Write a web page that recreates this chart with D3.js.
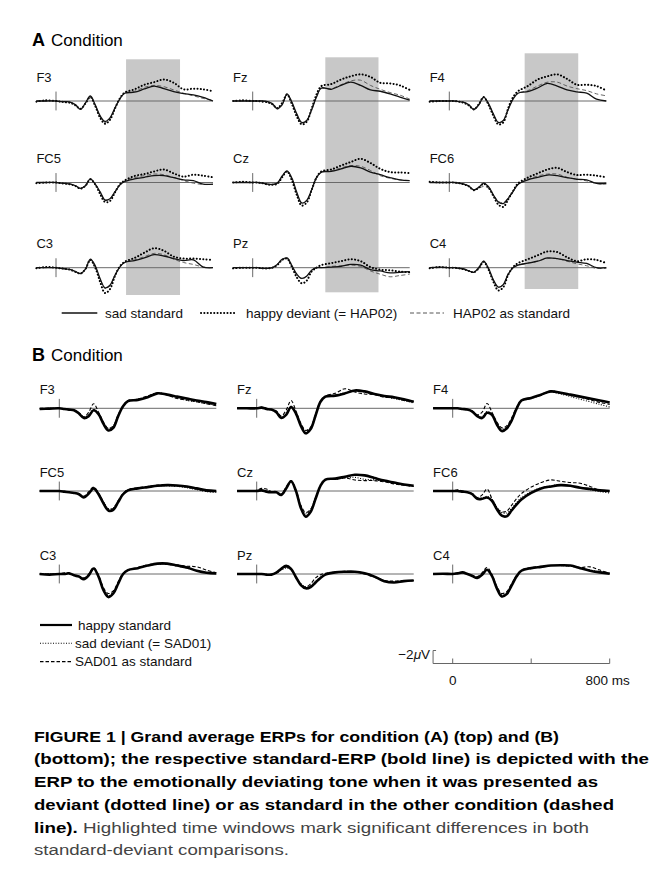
<!DOCTYPE html>
<html>
<head>
<meta charset="utf-8">
<script src="https://cdn.jsdelivr.net/npm/d3@7"></script>
<style>
  body { margin: 0; background: #fff; }
  svg { display: block; font-family: "Liberation Sans", Arial, sans-serif; }
</style>
</head>
<body>
<div id="fig"></div>
<script>
// sample times (ms) shared by every trace
var times = [-100, -50, 0, 25, 50, 75, 100, 125, 150, 175, 200, 225, 250, 275, 300, 325, 350, 400, 450, 500, 550, 600, 650, 700, 750, 800];

// electrodes, row by row
var electrodes = ["F3", "Fz", "F4", "FC5", "Cz", "FC6", "C3", "Pz", "C4"];

// highlighted windows (ms) for the three columns of condition A
var windowsA = [[357, 632], [370, 641], [384, 657]];

var legendA = ["sad standard", "happy deviant (= HAP02)", "HAP02 as standard"];
var legendB = ["happy standard", "sad deviant (= SAD01)", "SAD01 as standard"];

// amplitudes in microvolt, negative plotted up, one array per electrode
var aSadStandard = [
  [0,0,0,0.1,0.1,0.2,0.6,1.3,0.3,-0.77,0.6,2.3,3.15,2.6,1.1,-0.3,-1.2,-1.35,-1.85,-2.3,-1.9,-1.45,-1.15,-0.95,-0.55,0],
  [0,0,0,0,0,0.1,0.4,1.2,0.6,-1.1,0.2,2.0,3.3,3.0,1.4,-0.6,-2.0,-1.8,-2.4,-2.9,-2.4,-1.7,-1.5,-1.1,-0.6,-0.15],
  [0,0,0,0,0.1,0.2,0.6,1.3,0.6,-0.6,0.4,2.0,3.3,3.0,1.3,-0.3,-1.2,-1.45,-2.0,-2.7,-2.3,-1.7,-1.4,-1.2,-0.3,0],
  [0,0,0,0.1,0.15,0.25,0.5,0.9,0.5,-0.55,0.25,1.45,2.7,2.5,1.45,0.4,-0.15,-0.55,-0.8,-1.05,-1.05,-0.75,-0.4,-0.3,0.25,0.25],
  [0,0,0,0,0.1,0.25,0.3,0.1,-1.0,-1.8,-0.65,1.55,3.15,2.75,1.15,-0.75,-1.6,-1.7,-2.1,-2.5,-2.25,-1.6,-1.2,-0.75,-0.4,-0.3],
  [0,0,0,0,0.1,0.25,0.55,1.15,0.75,0.1,0.65,1.95,3.0,3.25,2.45,1.4,0.3,-0.4,-0.8,-1.15,-1.05,-0.75,-0.5,-0.4,0.15,0.15],
  [0,0,0,0.1,0.2,0.3,0.6,0.9,0.2,-1.3,-0.3,1.7,3.1,2.7,1.2,-0.1,-0.8,-1.1,-1.5,-2.0,-1.8,-1.4,-1.1,-1.2,-0.1,0],
  [0,0,0,0,0.1,0.1,0,-0.5,-1.3,-1.5,-0.3,1.0,1.65,1.3,0.4,0,0,-0.1,-0.2,-0.5,-0.4,0.3,0.5,0.8,0.7,0.6],
  [0,-0.1,0,0,0.1,0.2,0.5,0.7,0.0,-1.0,0.1,1.9,3.0,2.6,1.0,0.0,-0.4,-0.7,-1.0,-1.5,-1.4,-1.1,-0.85,-0.65,0.0,0]
];
var aHappyDeviant = [
  [0.1,-0.1,0,0.1,0.2,0.3,0.7,1.2,0.4,-0.6,0.8,2.6,3.5,2.9,1.2,-0.4,-1.3,-1.8,-2.5,-2.9,-3.3,-2.8,-1.8,-1.9,-1.8,-1.5],
  [0,-0.1,0,0,0.1,0.2,0.5,1.1,0.3,-1.0,0.5,2.4,3.6,3.2,1.2,-1.0,-2.3,-2.6,-3.3,-3.8,-4.1,-3.7,-2.8,-2.7,-2.4,-1.7],
  [0.1,0,0,0,0.1,0.3,0.7,1.3,0.5,-0.6,0.6,2.3,3.6,3.3,1.1,-0.6,-1.5,-2.3,-3.3,-3.8,-4.1,-3.4,-2.5,-2.5,-2.3,-1.6],
  [0.1,0,0,0.1,0.2,0.3,0.55,0.95,0.5,-0.5,0.3,1.8,3.0,2.85,1.55,0.3,-0.3,-1.0,-1.3,-1.7,-2.0,-1.4,-0.9,-1.2,-1.05,-0.8],
  [0,-0.1,0,0,0.1,0.3,0.35,0.2,-0.8,-1.7,-0.3,1.95,3.55,3.1,1.2,-0.75,-1.7,-2.0,-2.6,-3.15,-3.65,-3.0,-2.1,-1.6,-1.55,-1.45],
  [-0.1,0,0,0,0.1,0.3,0.6,1.2,0.8,0.2,0.8,2.1,3.4,3.75,2.6,1.3,0.15,-0.75,-1.4,-2.0,-2.25,-1.6,-1.15,-1.2,-1.05,-0.8],
  [0.1,-0.1,0,0.1,0.2,0.35,0.65,0.9,0.2,-1.2,0,2.2,3.9,3.3,1.3,-0.2,-0.9,-1.5,-2.3,-3.0,-2.6,-1.7,-1.4,-1.4,-1.3,-1.2],
  [0.1,0,0,0,0.1,0.1,0,-0.4,-1.2,-1.4,-0.1,1.5,2.4,2.0,0.6,0,-0.4,-0.7,-1.0,-1.3,-1.0,-0.1,0.3,0.4,0.6,0.7],
  [0.1,-0.1,0,0,0.1,0.25,0.5,0.7,0.1,-0.9,0.3,2.2,3.5,3.0,1.1,-0.1,-0.7,-1.3,-1.9,-2.5,-2.4,-1.6,-1.0,-1.3,-1.2,-0.7]
];
var aHap02Standard = [
  [0,0,0,0.1,0.1,0.2,0.6,1.2,0.3,-0.7,0.7,2.4,3.3,2.7,1.1,-0.3,-1.2,-1.5,-2.1,-2.4,-2.2,-1.7,-1.2,-0.8,-0.4,-0.1],
  [0,0,0,0,0,0.1,0.4,1.1,0.5,-1.0,0.3,2.1,3.4,3.0,1.3,-0.7,-1.9,-1.9,-2.5,-3.1,-3.2,-2.4,-1.8,-1.3,-0.9,-0.3],
  [0,0,0,0,0.1,0.2,0.6,1.2,0.6,-0.5,0.5,2.1,3.3,3.0,1.2,-0.4,-1.2,-1.6,-2.3,-2.9,-2.9,-2.3,-1.9,-1.6,-1.1,-0.8],
  [0,0,0,0.1,0.15,0.25,0.5,0.9,0.5,-0.5,0.3,1.5,2.7,2.5,1.4,0.35,-0.25,-0.75,-1.05,-1.3,-1.2,-0.75,-0.3,0.1,0.3,0.3],
  [0,0,0,0,0.1,0.25,0.3,0.1,-0.9,-1.7,-0.5,1.7,3.2,2.8,1.1,-0.8,-1.6,-1.8,-2.25,-2.6,-2.5,-1.85,-1.05,-0.65,-0.4,-0.3],
  [0,0,0,0,0.1,0.25,0.6,1.1,0.9,0.6,0.9,1.9,2.9,3.1,2.3,1.3,0.25,-0.5,-1.0,-1.3,-1.3,-0.8,-0.5,-0.25,0.15,0.25],
  [0,0,0,0.1,0.2,0.3,0.6,0.9,0.3,-1.1,-0.1,1.8,3.2,2.8,1.2,-0.1,-0.8,-1.2,-1.7,-2.2,-2.0,-1.3,-0.8,-0.5,-0.1,0],
  [0,0,0,0,0.1,0.1,0,-0.5,-1.2,-1.4,-0.2,1.1,1.7,1.3,0.4,0,0,-0.2,-0.3,-0.4,-0.2,0.5,1.0,1.4,1.2,1.0],
  [0,0,0,0,0.1,0.2,0.5,0.7,0.1,-0.9,0.2,1.9,3.0,2.6,1.0,0.0,-0.4,-0.7,-1.0,-1.4,-1.4,-1.0,-0.6,-0.3,0.1,0.1]
];
var bHappyStandard = [
  [0.1,0.05,0,0.1,0.2,0.3,0.8,1.5,1.2,0.3,0.9,2.4,3.4,3.0,1.2,-0.3,-1.1,-1.3,-1.7,-2.3,-2.1,-1.8,-1.5,-1.2,-0.95,-0.65],
  [0,0,0,-0.1,0.1,0.2,0.6,1.5,1.0,-0.2,0.8,2.7,3.85,3.2,1.1,-1.0,-1.8,-1.95,-2.3,-2.75,-2.6,-2.2,-1.9,-1.7,-1.4,-1.0],
  [0,0,0,0,0.1,0.2,0.5,1.2,1.5,0.7,1.0,2.5,3.5,3.1,1.9,0.1,-1.2,-1.6,-2.1,-2.6,-2.4,-2.1,-1.8,-1.5,-1.2,-0.9],
  [0,0,0,0.1,0.2,0.3,0.5,1.0,0.4,-0.4,0.5,1.9,3.0,2.9,1.7,0.5,-0.1,-0.4,-0.6,-0.8,-0.9,-0.85,-0.7,-0.4,-0.1,0],
  [0,0,0,-0.1,0.1,0.2,0.2,0.6,-0.4,-1.5,0.0,2.6,3.95,3.2,1.2,-0.8,-1.75,-1.9,-2.2,-2.5,-2.4,-2.0,-1.6,-1.3,-1.0,-0.8],
  [0,0,0,0,0.1,0.2,0.5,1.2,1.2,1.0,1.5,2.8,3.8,3.9,3.0,2.1,1.3,0.3,-0.4,-0.7,-0.9,-0.8,-0.5,-0.3,-0.1,0],
  [0,0.1,0,0,-0.1,0.2,0.4,0.8,0.2,-0.85,0.4,2.5,3.55,3.0,1.5,0.0,-0.6,-0.9,-1.3,-1.6,-1.6,-1.3,-1.0,-0.5,-0.2,-0.1],
  [0,0,0,0,0.1,0.1,-0.2,-0.8,-1.25,-0.8,0.5,1.7,2.2,2.0,1.3,0.6,0.1,-0.25,-0.35,-0.35,-0.1,0.4,1.1,1.3,1.1,1.0],
  [0,-0.05,0,-0.1,-0.25,0,0.3,0.6,0.1,-0.65,0.3,2.2,3.45,3.1,1.8,0.4,-0.5,-0.9,-1.1,-1.3,-1.35,-1.3,-0.9,-0.5,-0.25,-0.05]
];
var bSadDeviant = [
  [0.1,0,0,0.1,0.2,0.3,0.7,1.4,1.0,0.2,0.8,2.2,3.1,2.8,1.1,-0.3,-1.1,-1.4,-1.8,-2.4,-2.1,-1.7,-1.2,-1.0,-0.7,-0.5],
  [0,0,0,-0.1,0.1,0.2,0.5,1.4,0.9,-0.3,0.7,2.5,3.5,3.0,1.0,-1.0,-1.8,-2.0,-2.4,-2.6,-2.5,-2.1,-1.8,-1.5,-1.2,-0.8],
  [0,0,0,0,0.1,0.2,0.5,1.1,1.3,0.5,0.9,2.3,3.2,2.9,1.7,0.0,-1.1,-1.5,-2.0,-2.5,-2.2,-1.8,-1.4,-1.0,-0.6,-0.2],
  [0,0,0,0.1,0.2,0.3,0.5,0.9,0.3,-0.4,0.4,1.7,2.7,2.6,1.5,0.4,-0.2,-0.4,-0.6,-0.8,-0.8,-0.7,-0.5,-0.2,0.1,0.2],
  [0,0,0,-0.1,0.1,0.2,0.2,0.5,-0.4,-1.4,0.0,2.3,3.5,2.9,1.1,-0.8,-1.7,-1.8,-2.0,-2.1,-1.8,-1.7,-1.5,-1.2,-0.9,-0.7],
  [0,0,0,0,0.1,0.2,0.5,1.1,1.1,0.8,1.3,2.5,3.3,3.4,2.7,1.8,1.0,0.1,-0.5,-0.8,-1.0,-0.8,-0.5,-0.2,0.1,0.3],
  [0,0,0,0,-0.1,0.2,0.4,0.7,0.2,-0.8,0.3,2.3,3.3,2.8,1.4,0.0,-0.6,-0.9,-1.3,-1.5,-1.5,-1.2,-0.9,-0.5,-0.2,-0.1],
  [0,0,0,0,0.1,0.1,-0.1,-0.6,-0.9,-0.6,0.5,1.5,2.0,1.8,1.1,0.5,0.0,-0.3,-0.4,-0.3,-0.1,0.4,1.0,1.2,1.1,1.0],
  [0,0,0,-0.1,-0.2,0,0.3,0.5,0.1,-0.6,0.3,2.0,3.2,2.9,1.7,0.3,-0.5,-0.9,-1.1,-1.3,-1.3,-1.2,-0.9,-0.6,-0.3,-0.1]
];
var bSad01Standard = [
  [0,0,0,0.1,0.2,0.3,0.7,1.3,0.6,-0.7,0.6,2.1,3.1,2.7,1.0,-0.4,-1.2,-1.4,-1.9,-2.3,-2.0,-1.5,-1.3,-1.0,-0.7,-0.4],
  [0,0,0,-0.2,0,0.2,0.4,1.2,0.3,-1.2,0.4,2.3,3.4,2.9,0.9,-1.1,-1.9,-2.3,-3.0,-2.5,-2.2,-2.1,-1.7,-1.6,-1.2,-1.0],
  [0,0,0,0,0.1,0.2,0.4,1.0,0.6,-0.75,0.6,2.1,3.0,2.7,1.5,-0.1,-1.2,-1.6,-2.1,-2.7,-2.3,-2.0,-1.7,-1.3,-0.9,-0.6],
  [0,0,0,0.1,0.2,0.3,0.4,0.8,0.1,-0.6,0.3,1.7,2.8,2.7,1.5,0.4,-0.2,-0.5,-0.7,-0.9,-0.9,-0.8,-0.6,-0.3,0,0.1],
  [0,0,-0.1,-0.4,-0.3,0.1,0.2,0.5,-0.6,-1.6,-0.2,2.2,3.3,2.8,1.0,-0.8,-1.7,-1.8,-2.0,-1.7,-1.6,-1.6,-1.4,-1.1,-0.9,-0.7],
  [0,0,0,-0.2,0,0.2,0.4,1.0,0.6,-0.3,1.2,2.6,3.2,3.1,2.2,1.2,0.4,-0.6,-1.3,-1.7,-1.5,-1.3,-1.2,-0.7,-0.1,0.1],
  [0,0,0,-0.2,-0.1,0.2,0.3,0.6,0.0,-1.0,0.2,2.1,3.0,2.6,1.2,-0.1,-0.6,-1.0,-1.4,-1.6,-1.5,-1.4,-1.2,-1.1,-0.6,-0.2],
  [0,0,0,0,0.1,0.1,-0.2,-0.7,-1.1,-0.7,0.5,1.6,2.0,1.5,0.6,0.1,-0.1,-0.3,-0.4,-0.3,0.0,0.5,1.0,1.1,1.0,1.0],
  [0,0,0,-0.2,-0.2,0,0.2,0.4,-0.2,-1.0,0.1,1.9,3.0,2.7,1.5,0.2,-0.6,-1.0,-1.2,-1.3,-1.3,-1.2,-1.0,-1.1,-0.6,-0.1]
];

var captionBold = [
  "FIGURE 1 | Grand average ERPs for condition (A) (top) and (B)",
  "(bottom); the respective standard-ERP (bold line) is depicted with the",
  "ERP to the emotionally deviating tone when it was presented as",
  "deviant (dotted line) or as standard in the other condition (dashed",
  "line)."
];
var captionPlain = [
  " Highlighted time windows mark significant differences in both",
  "standard-deviant comparisons."
];

var W = 671, H = 887;
var svg = d3.select("#fig").append("svg").attr("width", W).attr("height", H);

var pxPerMs = 157 / 800;   // panel time scale
var pxPerUv = 6.5;         // panel amplitude scale

function panelX(tick) {
  return d3.scaleLinear().domain([-100, 800]).range([tick - 100 * pxPerMs, tick + 800 * pxPerMs]);
}
function panelY(base) {
  return d3.scaleLinear().domain([0, 1]).range([base, base + pxPerUv]);
}

function drawCondition(opt) {
  var g = svg.append("g");

  // highlighted windows (behind everything)
  if (opt.windows) {
    opt.windows.forEach(function (w, c) {
      var x = panelX(opt.cols[c]);
      g.append("rect")
        .attr("x", x(w[0])).attr("width", x(w[1]) - x(w[0]))
        .attr("y", opt.winTop[c]).attr("height", opt.winBottom[c] - opt.winTop[c])
        .attr("fill", "#c8c8c8");
    });
  }

  electrodes.forEach(function (name, i) {
    var c = i % 3, r = Math.floor(i / 3);
    var x = panelX(opt.cols[c]);
    var y = panelY(opt.rows[r]);
    var p = g.append("g");

    p.append("text")
      .attr("x", x(-100)).attr("y", opt.rows[r] - opt.labelGap)
      .attr("font-size", 13).attr("fill", "#111")
      .text(name);

    p.append("line")
      .attr("x1", x(-100)).attr("x2", x(800))
      .attr("y1", y(0)).attr("y2", y(0))
      .attr("stroke", "#6a6a6a").attr("stroke-width", 1);
    p.append("line")
      .attr("x1", x(0)).attr("x2", x(0))
      .attr("y1", y(-1.45)).attr("y2", y(1.45))
      .attr("stroke", "#6a6a6a").attr("stroke-width", 1);

    var line = d3.line()
      .x(function (d, k) { return x(times[k]); })
      .y(function (d) { return y(d); })
      .curve(d3.curveCatmullRom.alpha(0.5));

    opt.series.forEach(function (s) {
      p.append("path")
        .attr("d", line(s.data[i]))
        .attr("fill", "none")
        .attr("stroke", s.color)
        .attr("stroke-width", s.width)
        .attr("stroke-dasharray", s.dash)
        .attr("stroke-linecap", s.cap || "butt")
        .attr("stroke-linejoin", "round");
    });
  });
}

var styleA = {
  solid: { color: "#111", width: 1.3, dash: null },
  dotted: { color: "#000", width: 2, dash: "0.1,3.2", cap: "round" },
  dashed: { color: "#555", width: 0.9, dash: "4,2.5" }
};
var styleB = {
  solid: { color: "#000", width: 2.6, dash: null },
  dotted: { color: "#000", width: 1.1, dash: "1,1.6" },
  dashed: { color: "#000", width: 1.1, dash: "3.5,2" }
};

// heading helper
function heading(letter, y) {
  var t = svg.append("text").attr("x", 32).attr("y", y).attr("fill", "#000");
  t.append("tspan").attr("font-size", 18).attr("font-weight", "bold").text(letter);
  t.append("tspan").attr("font-size", 17).attr("dx", 6).text("Condition");
}

heading("A", 46);
drawCondition({
  cols: [56, 252.7, 449.3],
  rows: [101, 182.5, 267.7],
  labelGap: 19.5,
  windows: windowsA,
  winTop: [59.3, 57.3, 53.3],
  winBottom: [295, 292.3, 289],
  series: [
    Object.assign({ data: aHap02Standard }, styleA.dashed),
    Object.assign({ data: aHappyDeviant }, styleA.dotted),
    Object.assign({ data: aSadStandard }, styleA.solid)
  ]
});

heading("B", 361);
drawCondition({
  cols: [59.3, 256.7, 452.7],
  rows: [408.3, 491, 574],
  labelGap: 14.5,
  series: [
    Object.assign({ data: bSad01Standard }, styleB.dashed),
    Object.assign({ data: bSadDeviant }, styleB.dotted),
    Object.assign({ data: bHappyStandard }, styleB.solid)
  ]
});

// legend A (one row)
var legA = svg.append("g").attr("font-size", 13.5).attr("fill", "#111");
var legAx = [[61.7, 97.3, 105], [201, 236, 246], [410, 444, 453]];
var legAstyles = [styleA.solid, styleA.dotted, styleA.dashed];
var legAy = 313;
legendA.forEach(function (txt, i) {
  var s = legAstyles[i];
  legA.append("line")
    .attr("x1", legAx[i][0]).attr("x2", legAx[i][1]).attr("y1", legAy).attr("y2", legAy)
    .attr("stroke", s.color).attr("stroke-width", i === 2 ? 1 : s.width)
    .attr("stroke-dasharray", s.dash).attr("stroke-linecap", s.cap || "butt");
  legA.append("text").attr("x", legAx[i][2]).attr("y", legAy + 4.8).text(txt);
});

// legend B (stacked)
var legB = svg.append("g").attr("font-size", 13.5).attr("fill", "#111");
var legBstyles = [styleB.solid, styleB.dotted, styleB.dashed];
var legBy = [625, 643.3, 661.6];
legendB.forEach(function (txt, i) {
  var s = legBstyles[i];
  legB.append("line")
    .attr("x1", 40).attr("x2", 72).attr("y1", legBy[i]).attr("y2", legBy[i])
    .attr("stroke", s.color).attr("stroke-width", i === 0 ? 2.2 : s.width)
    .attr("stroke-dasharray", s.dash);
  legB.append("text").attr("x", i === 0 ? 78 : 75).attr("y", legBy[i] + 4.8).text(txt);
});

// scale bar, drawn on the same scales as the last column
var sbX = panelX(452.7);
var sbY = d3.scaleLinear().domain([0, -2]).range([663.5, 663.5 - 2 * pxPerUv]);
var sb = svg.append("g").attr("stroke", "#666").attr("stroke-width", 1);
sb.append("line").attr("x1", sbX(-100)).attr("x2", sbX(800)).attr("y1", sbY(0)).attr("y2", sbY(0));
sb.append("line").attr("x1", sbX(-100)).attr("x2", sbX(-100)).attr("y1", sbY(0)).attr("y2", sbY(-2));
sb.append("line").attr("x1", sbX(-100)).attr("x2", sbX(-100) + 3).attr("y1", sbY(-2)).attr("y2", sbY(-2));
[0, 400, 800].forEach(function (t) {
  sb.append("line").attr("x1", sbX(t)).attr("x2", sbX(t)).attr("y1", sbY(0)).attr("y2", sbY(0) - 5);
});
var uv = svg.append("text").attr("x", sbX(-100) - 3).attr("y", sbY(-2) + 8)
  .attr("text-anchor", "end").attr("font-size", 13.5).attr("fill", "#111");
uv.append("tspan").text("\u22122");
uv.append("tspan").attr("font-style", "italic").text("\u03bc");
uv.append("tspan").text("V");
svg.append("text").attr("x", sbX(0)).attr("y", 685).attr("text-anchor", "middle")
  .attr("font-size", 13.5).attr("fill", "#111").text("0");
svg.append("text").attr("x", sbX(800) + 20).attr("y", 685).attr("text-anchor", "end")
  .attr("font-size", 13.5).attr("fill", "#111").text("800 ms");

// caption
var capWidths = [525, 615, 564, 580, 555, 255];
var cap = svg.append("g").attr("font-size", 15.5);
for (var k = 0; k < 6; k++) {
  var t = cap.append("text").attr("x", 34).attr("y", 741.7 + k * 22.7);
  if (k < 4) {
    t.append("tspan").attr("font-weight", "bold").attr("fill", "#000").text(captionBold[k]);
  } else if (k === 4) {
    t.append("tspan").attr("font-weight", "bold").attr("fill", "#000").text(captionBold[4]);
    t.append("tspan").attr("fill", "#444").text(captionPlain[0]);
  } else {
    t.append("tspan").attr("fill", "#444").text(captionPlain[1]);
  }
  t.attr("textLength", capWidths[k]).attr("lengthAdjust", "spacingAndGlyphs");
}
</script>
</body>
</html>
